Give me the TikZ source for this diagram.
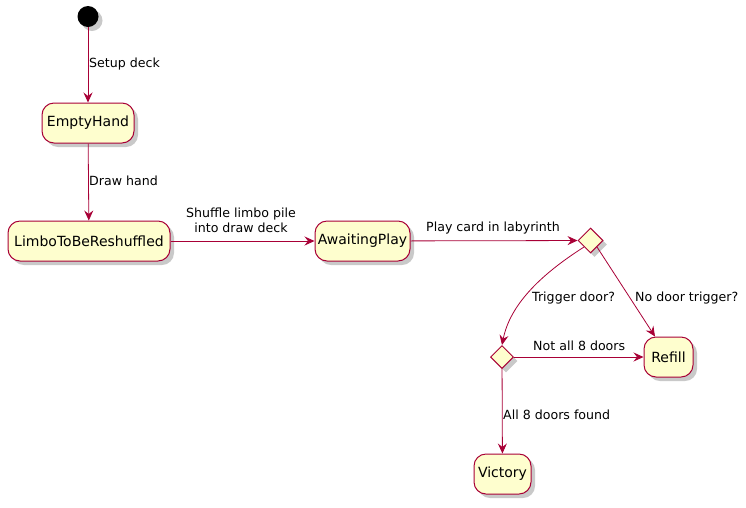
\documentclass[tikz,border=0pt]{standalone}
\usepackage{fontspec}
\setmainfont{DejaVu Sans}
\usetikzlibrary{arrows.meta,shapes.geometric,shadows,positioning}
\definecolor{pbord}{HTML}{A80036}
\definecolor{pfill}{HTML}{FEFECE}
\tikzset{
  shad/.style={drop shadow={shadow xshift=4pt,shadow yshift=-4pt,opacity=0.3,fill=black!70}},
  statebox/.style={draw=pbord,fill=pfill,line width=1pt,rounded corners=12pt,inner sep=0pt,
    minimum height=40pt,font=\fontsize{14}{16}\selectfont,shad},
  choicebox/.style={draw=pbord,fill=pfill,line width=1pt,diamond,aspect=1,inner sep=0pt,
    minimum width=25pt,minimum height=25pt,shad},
  startdot/.style={circle,fill=black,draw=none,minimum size=21pt,inner sep=0pt,shad},
  conn/.style={draw=pbord,line width=0.8pt,-{Stealth[length=10pt,width=9pt,inset=3.5pt]}},
  lbl/.style={font=\fontsize{12.6}{15}\selectfont,inner sep=0pt,text=black},
}
\begin{document}
\begin{tikzpicture}[x=1pt,y=-1pt]
\useasboundingbox (0,0) rectangle (746,507);
\node[startdot] (init) at (88,16.5) {};
\node[statebox,minimum width=92pt] (empty) at (88,123) {EmptyHand};
\node[statebox,minimum width=162pt] (limbo) at (89,241) {LimboToBeReshuffled};
\node[statebox,minimum width=95pt] (await) at (362.5,241) {AwaitingPlay};
\node[choicebox] (c1) at (590.5,240.5) {};
\node[choicebox,minimum width=23pt,minimum height=23pt] (c2) at (502,357) {};
\node[statebox,minimum width=49pt] (refill) at (668.5,357) {Refill};
\node[statebox,minimum width=57pt] (victory) at (502.5,474) {Victory};

\draw[conn] (init) -- (empty);
\draw[conn] (empty) -- (limbo);
\draw[conn] (limbo) -- (await);
\draw[conn] (await) -- (c1);
\draw[conn] (c1.south west) .. controls (540,275) and (510,305) .. (c2.north);
\draw[conn] (c1.south east) -- (refill.north -| 655,0);
\draw[conn] (c2) -- (refill);
\draw[conn] (c2) -- (victory);

\node[lbl,anchor=west] (l1) at (89,64) {Setup deck};
\node[lbl,anchor=west] (l2) at (89,181) {Draw hand};
\node[lbl,align=center] (l3) at (241,220.5) {Shuffle limbo pile\\into draw deck};
\node[lbl] (l4) at (493,228.5) {Play card in labyrinth};
\node[lbl,anchor=west] (l5) at (532,298) {Trigger door?};
\node[lbl,anchor=west] (l6) at (635,298) {No door trigger?};
\node[lbl,anchor=west] (l7) at (533,345.5) {Not all 8 doors};
\node[lbl,anchor=west] (l8) at (503,414.5) {All 8 doors found};
\end{tikzpicture}
\end{document}
